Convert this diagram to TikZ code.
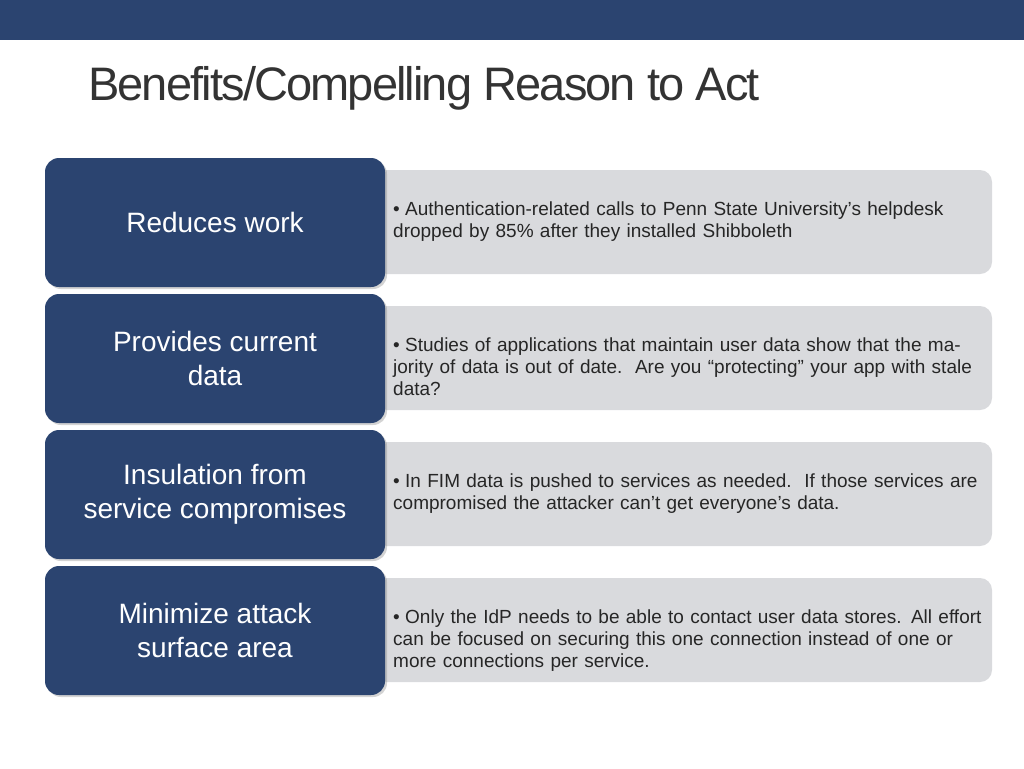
\documentclass[tikz,border=0pt]{standalone}
\usepackage{fontspec}
\setmainfont{Liberation Sans}
\usetikzlibrary{shadows}
\definecolor{navy}{HTML}{2B4470}
\definecolor{pale}{HTML}{D9DADD}
\definecolor{ttl}{HTML}{333333}
\tikzset{x=1pt,y=-1pt,
 leftbox/.style={fill=navy,rounded corners=14pt,drop shadow={shadow xshift=2pt,shadow yshift=-2pt,opacity=0.35}},
 rightbox/.style={fill=pale,rounded corners=12pt},
 lbl/.style={text=white,font=\fontsize{28}{34}\selectfont,align=center},
 body/.style={anchor=north west,text=black!85,font=\fontsize{19}{22}\selectfont,text width=590pt,inner sep=0pt}}
\newcommand{\bul}[1]{\hangindent=12pt\hangafter=1\noindent\makebox[12pt][l]{•}#1}
\begin{document}
\begin{tikzpicture}
\useasboundingbox (0,0) rectangle (1024,768);
\fill[navy] (0,0) rectangle (1024,40);
\node[anchor=base west,inner sep=0pt,text=ttl,font=\fontsize{47}{50}\selectfont\addfontfeatures{LetterSpace=-4}] (title) at (88,100) {Benefits/Compelling Reason to Act};
\foreach \i/\l/\t in {0/{Reduces work}/{Authentication-related calls to Penn State University’s helpdesk dropped by 85\% after they installed Shibboleth},
 1/{Provides current\\data}/{Studies of applications that maintain user data show that the majority of data is out of date.\ \ Are you “protecting” your app with stale data?},
 2/{Insulation from\\service compromises}/{In FIM data is pushed to services as needed.\ \ If those services are compromised the attacker can’t get everyone’s data.},
 3/{Minimize attack\\surface area}/{Only the IdP needs to be able to contact user data stores. All effort can be focused on securing this one connection instead of one or more connections per service.}}{
 \pgfmathsetmacro{\y}{158+136*\i}
 \fill[rightbox] (370,\y+12) rectangle (992,\y+116);
 \fill[leftbox] (45,\y) rectangle (385,\y+129);
 \node[lbl] (l\i) at (215,\y+64) {\l};
 \node[body] (b\i) at (393,\y+44) {\bul{\t}};
}
\end{tikzpicture}
\end{document}
